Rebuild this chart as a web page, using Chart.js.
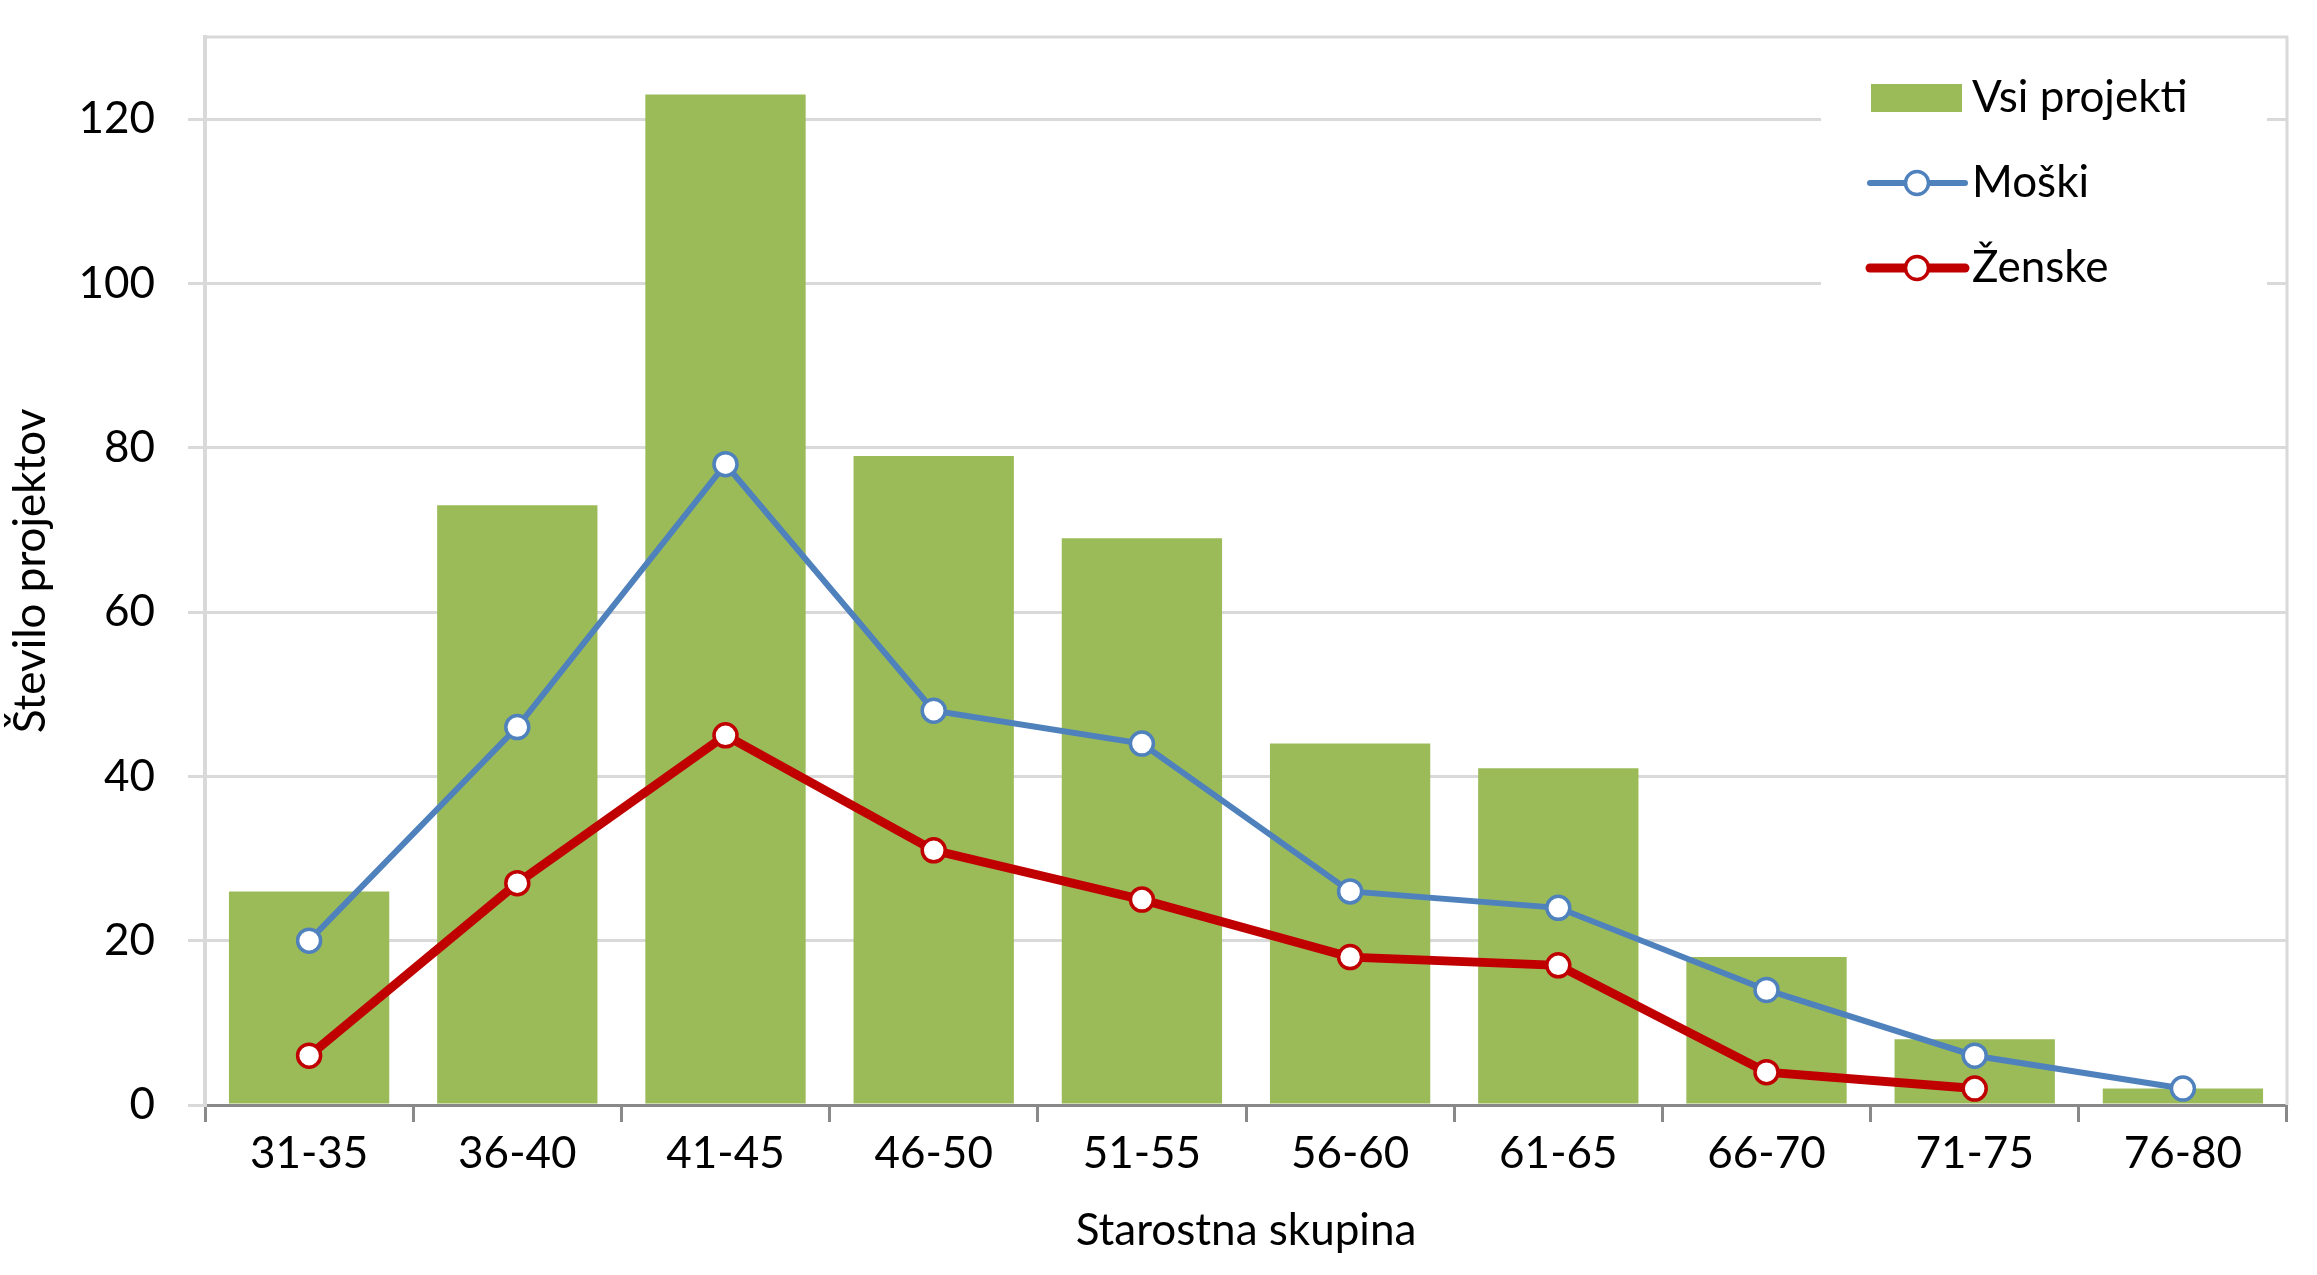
<!DOCTYPE html>
<html>
<head>
<meta charset="utf-8">
<script src="https://cdn.jsdelivr.net/npm/chart.js@4.4.1/dist/chart.umd.min.js"></script>
<style>
  html, body { margin: 0; padding: 0; background: #fff; }
  canvas { display: block; }
</style>
</head>
<body>
<canvas id="ageChart" width="2317" height="1275"></canvas>
<script>
// age groups and counts
const categories = ['31-35', '36-40', '41-45', '46-50', '51-55', '56-60', '61-65', '66-70', '71-75', '76-80'];
const allProjects = [26, 73, 123, 79, 69, 44, 41, 18, 8, 2];
const men = [20, 46, 78, 48, 44, 26, 24, 14, 6, 2];
const women = [6, 27, 45, 31, 25, 18, 17, 4, 2, null];
const yTicks = [0, 20, 40, 60, 80, 100, 120];

const FONT = 'Lato, "Open Sans", sans-serif';
const GRID = '#D9D9D9';
const AXIS = '#898989';

// plot frame on top and right side
const framePlugin = {
  id: 'frame',
  beforeDatasetsDraw(chart) {
    const { ctx, chartArea: a } = chart;
    ctx.save();
    ctx.strokeStyle = GRID;
    ctx.lineWidth = 3;
    ctx.beginPath();
    ctx.moveTo(a.left, a.top);
    ctx.lineTo(a.right, a.top);
    ctx.lineTo(a.right, a.bottom);
    ctx.stroke();
    ctx.restore();
  }
};

// legend sits inside the plot, upper right
const insideLegend = {
  id: 'insideLegend',
  afterDatasetsDraw(chart) {
    const { ctx, chartArea: a } = chart;
    const ds = chart.data.datasets;
    const x0 = a.right - 416;
    const y0 = a.top + 75;
    const step = 85;
    ctx.save();
    ctx.fillStyle = '#fff';
    ctx.fillRect(x0 - 50, a.top + 18, 446, 250);
    ctx.font = '44px ' + FONT;
    ctx.textBaseline = 'alphabetic';
    ds.forEach((d, i) => {
      const yb = y0 + i * step;
      if (d.type === 'bar') {
        ctx.fillStyle = d.backgroundColor;
        ctx.fillRect(x0, yb - 28, 91, 28);
      } else {
        const yc = yb - 14;
        ctx.strokeStyle = d.borderColor;
        ctx.lineWidth = d.borderWidth;
        ctx.lineCap = 'round';
        ctx.beginPath();
        ctx.moveTo(x0 - 1, yc);
        ctx.lineTo(x0 + 94, yc);
        ctx.stroke();
        ctx.beginPath();
        ctx.arc(x0 + 46, yc, d.pointRadius, 0, Math.PI * 2);
        ctx.fillStyle = '#fff';
        ctx.fill();
        ctx.lineWidth = d.pointBorderWidth;
        ctx.stroke();
      }
      ctx.fillStyle = '#000';
      ctx.fillText(d.label, x0 + 101, yb);
    });
    ctx.restore();
  }
};

new Chart(document.getElementById('ageChart'), {
  data: {
    labels: categories,
    datasets: [
      {
        type: 'bar',
        label: 'Vsi projekti',
        data: allProjects,
        backgroundColor: '#9BBB59',
        barPercentage: 0.77,
        categoryPercentage: 1,
        order: 3
      },
      {
        type: 'line',
        label: 'Moški',
        data: men,
        borderColor: '#4F81BD',
        borderWidth: 6,
        pointRadius: 11.5,
        pointBorderWidth: 3.5,
        pointBackgroundColor: '#fff',
        pointBorderColor: '#4F81BD',
        tension: 0,
        order: 2
      },
      {
        type: 'line',
        label: 'Ženske',
        data: women,
        borderColor: '#C00000',
        borderWidth: 9,
        pointRadius: 11.5,
        pointBorderWidth: 3.5,
        pointBackgroundColor: '#fff',
        pointBorderColor: '#C00000',
        tension: 0,
        order: 1
      }
    ]
  },
  options: {
    responsive: false,
    devicePixelRatio: 1,
    animation: false,
    layout: { padding: { left: 0, right: 30, top: 37, bottom: 0 } },
    plugins: { legend: { display: false }, tooltip: { enabled: false } },
    scales: {
      x: {
        offset: true,
        grid: {
          offset: true,
          drawOnChartArea: false,
          drawTicks: true,
          tickLength: 17,
          tickColor: AXIS,
          tickWidth: 3
        },
        border: { color: AXIS, width: 3 },
        ticks: { color: '#000', font: { family: FONT, size: 44 }, padding: 5, maxRotation: 0 },
        title: {
          display: true,
          text: 'Starostna skupina',
          color: '#000',
          font: { family: FONT, size: 44 },
          padding: { top: 4, bottom: 18 }
        },
        afterFit(scale) { scale.height = 170; }
      },
      y: {
        min: 0,
        max: 130,
        afterBuildTicks(scale) { scale.ticks = yTicks.map(v => ({ value: v })); },
        grid: {
          color: ctx => (ctx.tick && ctx.tick.value === 0 ? 'rgba(0,0,0,0)' : GRID),
          lineWidth: 3,
          tickLength: 17,
          tickColor: GRID
        },
        border: { color: GRID, width: 4 },
        ticks: { color: '#000', font: { family: FONT, size: 44 }, padding: 33 },
        title: {
          display: true,
          text: 'Število projektov',
          color: '#000',
          font: { family: FONT, size: 44 },
          padding: { top: 4, bottom: 4 }
        },
        afterFit(scale) {
          scale.width = 205;
          scale.paddingTop = 0;
          scale.paddingBottom = 0;
        }
      }
    }
  },
  plugins: [framePlugin, insideLegend]
});
</script>
</body>
</html>
